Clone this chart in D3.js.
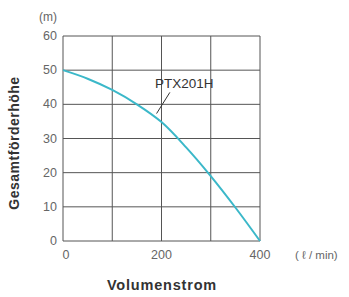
<!DOCTYPE html>
<html>
<head>
<meta charset="utf-8">
<script src="https://cdn.jsdelivr.net/npm/d3@7"></script>
<style>
  body { margin: 0; background: #fff; }
  text { font-family: "Liberation Sans", Arial, sans-serif; }
</style>
</head>
<body>
<div id="chart"></div>
<script>
// curve
const flow = [0, 50, 100, 150, 200, 250, 300, 350, 400];
const head = [50, 47.5, 44.2, 40, 34.8, 27.4, 19, 9.8, 0];
const xTicks = [0, 200, 400];
const yTicks = [0, 10, 20, 30, 40, 50, 60];
const seriesName = 'PTX201H';

const width = 349, height = 297;
const margin = { left: 63, right: 89, top: 36, bottom: 56 };

const svg = d3.select('#chart').append('svg')
  .attr('width', width)
  .attr('height', height);

const x = d3.scaleLinear().domain([0, 400]).range([margin.left, width - margin.right]);
const y = d3.scaleLinear().domain([0, 60]).range([height - margin.bottom, margin.top]);

const grid = svg.append('g').attr('stroke', '#555').attr('stroke-width', 1);

// vertical grid every 100
grid.selectAll('line.v')
  .data(d3.range(0, 401, 100))
  .enter().append('line')
  .attr('x1', d => x(d)).attr('x2', d => x(d))
  .attr('y1', y(0)).attr('y2', y(60));

grid.selectAll('line.h')
  .data(yTicks)
  .enter().append('line')
  .attr('x1', x(0)).attr('x2', x(400))
  .attr('y1', d => y(d)).attr('y2', d => y(d));

// y tick labels
svg.selectAll('text.yt')
  .data(yTicks)
  .enter().append('text')
  .attr('x', x(0) - 6)
  .attr('y', d => y(d) + 4)
  .attr('text-anchor', 'end')
  .attr('font-size', 12.5)
  .attr('fill', '#666')
  .text(d => d);

svg.selectAll('text.xt')
  .data(xTicks)
  .enter().append('text')
  .attr('x', d => x(d) + (d === 0 ? 3 : 0))
  .attr('y', y(0) + 18)
  .attr('text-anchor', 'middle')
  .attr('font-size', 12.5)
  .attr('fill', '#666')
  .text(d => d);

svg.append('text')
  .attr('x', 48).attr('y', 21)
  .attr('text-anchor', 'middle')
  .attr('font-size', 12)
  .attr('fill', '#666')
  .text('(m)');

svg.append('text')
  .attr('x', 295).attr('y', y(0) + 18)
  .attr('font-size', 11.5)
  .attr('fill', '#666')
  .text('( ℓ / min)');

// axis titles
svg.append('text')
  .attr('x', 162).attr('y', 290)
  .attr('text-anchor', 'middle')
  .attr('font-family', '"Open Sans", sans-serif')
  .attr('font-size', 14.5)
  .attr('letter-spacing', 0.8)
  .attr('font-weight', 'bold')
  .attr('fill', '#333')
  .text('Volumenstrom');

svg.append('text')
  .attr('transform', 'translate(19,143) rotate(-90)')
  .attr('text-anchor', 'middle')
  .attr('font-family', '"Open Sans", sans-serif')
  .attr('font-size', 14)
  .attr('letter-spacing', 0.5)
  .attr('font-weight', 'bold')
  .attr('fill', '#333')
  .text('Gesamtförderhöhe');

// pump curve
const line = d3.line()
  .x((d, i) => x(flow[i]))
  .y(d => y(d))
  .curve(d3.curveCatmullRom);

svg.append('path')
  .datum(head)
  .attr('d', line)
  .attr('fill', 'none')
  .attr('stroke', '#3bb8c9')
  .attr('stroke-width', 2);

// label with leader line
svg.append('line')
  .attr('x1', x(217)).attr('y1', y(43.5))
  .attr('x2', x(190)).attr('y2', y(37.3))
  .attr('stroke', '#333')
  .attr('stroke-width', 1);

svg.append('text')
  .attr('x', x(187)).attr('y', y(44.7))
  .attr('font-size', 13.5)
  .attr('fill', '#333')
  .text(seriesName);
</script>
</body>
</html>
